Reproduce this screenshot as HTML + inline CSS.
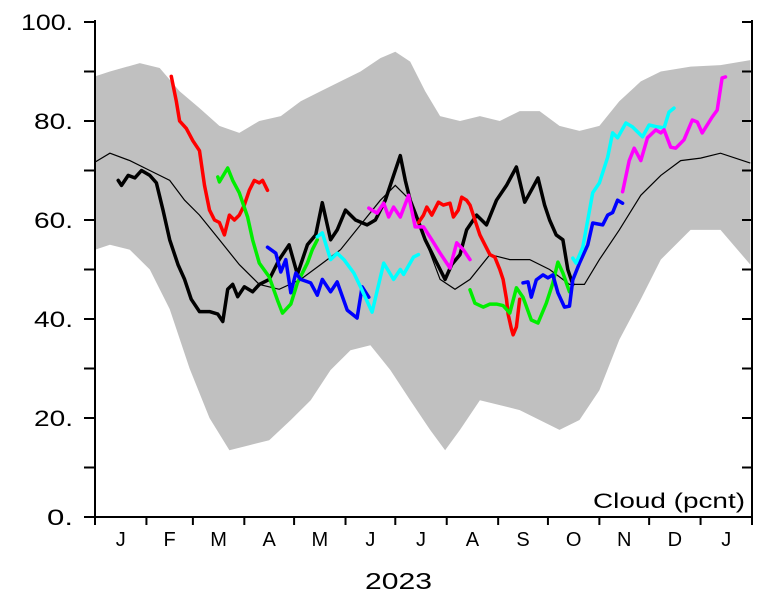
<!DOCTYPE html>
<html><head><meta charset="utf-8"><style>
html,body{margin:0;padding:0;background:#fff;}
svg{display:block;font-family:"Liberation Sans",sans-serif;}
</style></head><body>
<svg id="chart" width="775" height="598" viewBox="0 0 775 598" xmlns="http://www.w3.org/2000/svg">
<g id="band"></g>
<g id="lines"></g>
<g id="axes"></g>
<text x="593" y="508" font-size="21" font-weight="300" textLength="152" lengthAdjust="spacingAndGlyphs">Cloud (pcnt)</text>
<text x="365" y="589" font-size="23" font-weight="300" textLength="67" lengthAdjust="spacingAndGlyphs">2023</text>
</svg>
<script>
const monthLabels=["J","F","M","A","M","J","J","A","S","O","N","D","J"];
const monthStartDays=[0,31,59,90,120,151,181,212,243,273,304,334,365,396];
const yTickValues=[0,10,20,30,40,50,60,70,80,90,100];
const yTickLabels=["0.","","20.","","40.","","60.","","80.","","100."];

const upperDays=[0,9,27,39,51,63,75,87,99,112,124,136,148,160,172,181,190,199,208,220,232,244,256,268,280,292,304,316,329,341,359,377,395];
const upperVals=[89,90,91.7,90.7,86,82.6,79,77.6,80,81,84,86,88,90,92.7,94,92,86,81,80,81,80,82,82,79,78,79,84,88,90,91,91.3,92.3];
const lowerDays=[0,9,21,33,45,57,69,81,93,105,118,130,142,154,166,178,190,202,211,220,232,244,256,268,280,292,304,316,329,341,359,377,395];
const lowerVals=[54,55,54,50,42,30,20,13.5,14.5,15.5,19.6,23.6,29.7,33.7,34.7,29.7,23.6,17.6,13.5,17.6,23.6,22.6,21.6,19.6,17.6,19.6,25.6,35.8,44,52,58,58,51];
const meanDays=[0,9,21,33,45,54,63,75,87,99,111,124,136,148,160,172,181,190,199,208,217,226,238,250,262,274,286,295,304,316,329,341,353,365,377,395];
const meanVals=[71.7,73.5,72,70,68,64,61,56,51,47,46,48,51,54,59,64,67,64,56,48,46,48,53,52,52,50,47,47,52,58,65,69,72,72.5,73.5,71.5];

const blackDays=[14,16,20,24,28,33,37,41,45,50,54,58,63,69,74,77,80,83,86,90,95,99,105,111,117,122,128,133,137,142,146,151,157,164,169,175,180,184,187,190,194,199,205,211,215,220,224,230,236,242,248,254,259,263,267,271,274,278,282,285,288];
const blackVals=[68,67,69,68.5,70,69,67.5,62,56,51,48,44,41.5,41.5,41,39.5,46,47,44.5,46.5,45.5,47,48,52,55,49,55,57,63.5,56,58,62,60,59,60,64,69,73,68,64,60.5,56,52,48,51,53,58,61,59,64,67,70.7,63.6,66,68.5,63,60,57,56,50,47];
const red1Days=[46,49,51,55,59,63,66,69,72,75,78,81,84,87,90,93,96,99,101,104];
const red1Vals=[89,84,80,78.5,76,74,67,62,60,59.5,57,61,60,61,63,66,68,67.5,68,66];
const red2Days=[195,198,200,203,207,210,214,216,219,221,224,226,229,232,235,238,241,244,246,248,249,251,252,254,256];
const red2Vals=[59.5,61,62.6,61,63.6,63,63.4,60.6,62,64.6,64,63,60,57,55,53,52.5,50,48,44,41,38,36.8,38.4,44];
const green1Days=[74,75,80,83,87,92,95,99,105,110,113,118,122,128,131,134];
const green1Vals=[68.7,67.7,70.5,68,65.5,60.6,56,51.3,48.5,43.8,41.2,43,47.3,51.3,54,56];
const blue1Days=[104,109,112,115,118,121,124,130,134,137,142,146,152,158,161,165];
const blue1Vals=[54.5,53.3,49.5,52,45.3,49.3,48,47.3,44.8,48,45.5,47.5,41.8,40.2,46.5,44.4];
const cyan1Days=[134,137,142,146,150,156,160,167,174,180,184,186,192,195];
const cyan1Vals=[56.6,57.4,52,53.3,52,49.3,46.5,41.4,51.3,48,50,49,52.5,53];
const magenta1Days=[165,170,174,177,180,184,189,193,198,203,208,214,218,222,226];
const magenta1Vals=[62.4,61.4,63.4,60.6,62.6,60.6,65,58.6,58.6,56,53.3,50.3,55.4,54,52];
const green2Days=[226,229,234,238,242,246,250,254,258,263,267,272,276,279,282,286];
const green2Vals=[45.9,43.2,42.4,43,43,42.7,41.2,46.3,44.4,39.8,39.2,43.2,47.3,51.5,49.3,45.5];
const blue2Days=[258,261,263,266,270,273,276,279,283,286,288,292,297,300,306,309,312,315,318];
const blue2Vals=[47.3,47.5,44.4,47.9,48.9,48.3,48.9,45.3,42.4,42.6,47.9,51.3,55,59.4,59,61,61.5,64,63.4];
const cyan2Days=[288,290,294,300,304,309,312,315,320,324,330,334,339,343,346,349];
const cyan2Vals=[52.3,51.3,54.5,65.5,67.5,72.7,77.6,76.6,79.6,78.8,76.8,79.2,78.8,78.6,81.8,82.6];
const magenta2Days=[318,322,325,329,333,338,341,343,347,350,355,360,363,366,372,375,378,380];
const magenta2Vals=[65.7,72,74.5,72,76.6,78.2,77.6,78.2,74.7,74.5,76.2,80.2,79.8,77.6,80.8,82.2,88.7,88.9];

const X0=95,X1=752,Y0=517,Y1=22,DAYS=396;
function xs(d){return X0+d*(X1-X0)/DAYS;}
function ys(v){return Y0-v*(Y0-Y1)/100;}
const NS="http://www.w3.org/2000/svg";
function mk(tag,parent){const e=document.createElementNS(NS,tag);parent.appendChild(e);return e;}
function pts(ds,vs){return ds.map((d,i)=>xs(d).toFixed(1)+","+ys(vs[i]).toFixed(1)).join(" ");}

const band=document.getElementById("band");
const poly=mk("polygon",band);


const up=pts(upperDays,upperVals);
const lo=lowerDays.map((d,i)=>xs(d).toFixed(1)+","+ys(lowerVals[i]).toFixed(1)).reverse().join(" ");
poly.setAttribute("points",up+" "+lo);
poly.setAttribute("fill","#c0c0c0");

const lines=document.getElementById("lines");
const meanLine=mk("polyline",lines);


meanLine.setAttribute("points",pts(meanDays,meanVals));
meanLine.setAttribute("fill","none");meanLine.setAttribute("stroke","#000");meanLine.setAttribute("stroke-width","1.2");

const series=[
 ["series-black",blackDays,blackVals,"#000"],
 ["series-red-1",red1Days,red1Vals,"#ff0000"],
 ["series-green-1",green1Days,green1Vals,"#00ee00"],
 ["series-blue-1",blue1Days,blue1Vals,"#0000ff"],
 ["series-cyan-1",cyan1Days,cyan1Vals,"#00ffff"],
 ["series-magenta-1",magenta1Days,magenta1Vals,"#ff00ff"],
 ["series-red-2",red2Days,red2Vals,"#ff0000"],
 ["series-green-2",green2Days,green2Vals,"#00ee00"],
 ["series-blue-2",blue2Days,blue2Vals,"#0000ff"],
 ["series-cyan-2",cyan2Days,cyan2Vals,"#00ffff"],
 ["series-magenta-2",magenta2Days,magenta2Vals,"#ff00ff"]
];
series.forEach(s=>{
 const p=mk("polyline",lines);
 
 
 p.setAttribute("points",pts(s[1],s[2]));
 p.setAttribute("fill","none");p.setAttribute("stroke",s[3]);
 p.setAttribute("stroke-width","3.5");p.setAttribute("stroke-linejoin","round");p.setAttribute("stroke-linecap","round");
});

const axes=document.getElementById("axes");
function line(x1,y1,x2,y2,w,name){const l=mk("line",axes);
 
 
 l.setAttribute("x1",x1);l.setAttribute("y1",y1);l.setAttribute("x2",x2);l.setAttribute("y2",y2);l.setAttribute("stroke","#000");l.setAttribute("stroke-width",w);}
line(X0,Y1-2,X0,Y0+1,2,"y-axis-left");
line(X1,Y1-2,X1,Y0+1,2,"y-axis-right");
line(X0-1,Y0,X1+1,Y0,2,"x-axis");
yTickValues.forEach((v,i)=>{
 const y=ys(v);
 line(X0-11,y,X0,y,2,"y-tick-left");
 line(X1-10,y,X1,y,2,"y-tick-right");
 if(yTickLabels[i]){
  const t=mk("text",axes);
  
  
  const n=yTickLabels[i].length;
  const w=n*13;
  t.setAttribute("x",73-w);t.setAttribute("y",y+8);t.setAttribute("font-size","22");t.setAttribute("font-weight","300");
  t.setAttribute("textLength",w);t.setAttribute("lengthAdjust","spacingAndGlyphs");
  t.textContent=yTickLabels[i];
 }
});
monthStartDays.forEach(d=>{line(xs(d),Y0,xs(d),Y0+8,2,"x-tick");});
monthLabels.forEach((m,i)=>{
 const t=mk("text",axes);
 
 
 const c=(xs(monthStartDays[i])+xs(monthStartDays[i+1]))/2;
 t.setAttribute("x",c);t.setAttribute("y",546);t.setAttribute("font-size","20");t.setAttribute("font-weight","300");t.setAttribute("text-anchor","middle");
 t.textContent=m;
});
</script>
</body></html>
